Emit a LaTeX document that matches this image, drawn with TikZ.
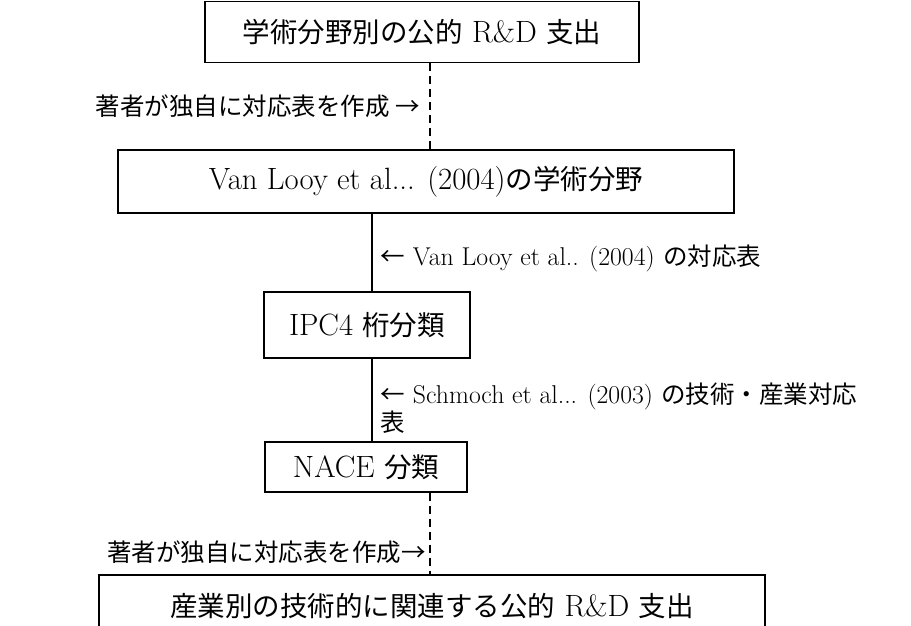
\documentclass[tikz,border=0pt]{standalone}
\usepackage{fontspec}
\setmainfont{Latin Modern Roman}[Scale=1.12]
\newfontfamily\jpfont{Noto Sans CJK JP}
\newcommand{\ja}[1]{{\jpfont #1}}
\newcommand{\lat}[1]{{\fontsize{23}{28}\selectfont #1}}

\begin{document}
\begin{tikzpicture}[x=1pt,y=-1pt,
  stage/.style={draw, line width=1.1pt, inner sep=0pt, font=\fontsize{27.5}{32}\selectfont},
  note/.style={inner sep=0pt, font=\fontsize{24.5}{28}\selectfont, align=left},
  link/.style={line width=1.1pt},
  own/.style={line width=1.1pt, dash pattern=on 8pt off 5pt}]
\useasboundingbox (0,0) rectangle (911,625);

\node[stage, minimum width=434, minimum height=61.5] (field) at (422,32) {\ja{学術分野別の公的} R\&D \ja{支出}\hspace{40pt}};
\node[stage, minimum width=616, minimum height=63] (looy) at (426,181.5) {Van Looy et al... (2004)\ja{の学術分野}};
\node[stage, minimum width=206, minimum height=66] (ipc) at (367,325) {IPC4 \ja{桁分類}};
\node[stage, minimum width=202, minimum height=50] (nace) at (366,467) {NACE \ja{分類}};
\node[stage, minimum width=666, minimum height=62] (sector) at (432,606) {\ja{産業別の技術的に関連する公的} R\&D \ja{支出}\hspace{34pt}};

\coordinate (dash) at (430,0);
\coordinate (solid) at (372,0);
\draw[own] (field.south -| dash) -- (looy.north -| dash);
\draw[link] (looy.south -| solid) -- (ipc.north -| solid);
\draw[link] (ipc.south -| solid) -- (nace.north -| solid);
\draw[own] (nace.south -| dash) -- (sector.north -| dash);

\node[note, anchor=east] (own1) at (420,106) {\ja{著者が独自に対応表を作成 →}};
\node[note, anchor=west] (table1) at (380,258) {\ja{←} \lat{Van Looy et al.. (2004)} \ja{の対応表}};
\node[note, anchor=north west] (table2) at (380,383) {\ja{←} \lat{Schmoch et al... (2003)} \ja{の技術・産業対応}\\\ja{表}};
\node[note, anchor=east] (own2) at (426,552) {\ja{著者が独自に対応表を作成→}};
\end{tikzpicture}
\end{document}
